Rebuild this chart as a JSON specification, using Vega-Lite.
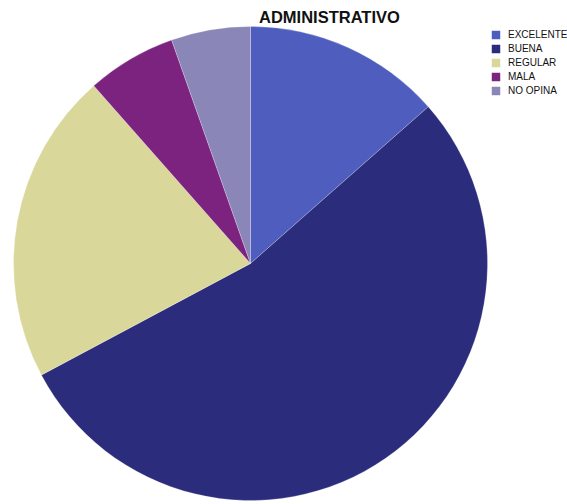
{
  "$schema": "https://vega.github.io/schema/vega-lite/v6.json",
  "width": 501,
  "height": 481,
  "autosize": {"type": "none"},
  "padding": {"left": 0, "top": 23, "right": 66, "bottom": 0},
  "background": "white",
  "title": {
    "text": "ADMINISTRATIVO",
    "anchor": "start",
    "frame": "group",
    "dx": 259,
    "offset": -3,
    "font": "Liberation Sans",
    "fontSize": 16.5,
    "fontWeight": "bold",
    "color": "#111111"
  },
  "data": {
    "values": [
      {"categoria": "EXCELENTE", "valor": 13.5, "orden": 1},
      {"categoria": "BUENA", "valor": 53.7, "orden": 2},
      {"categoria": "REGULAR", "valor": 21.3, "orden": 3},
      {"categoria": "MALA", "valor": 6.1, "orden": 4},
      {"categoria": "NO OPINA", "valor": 5.4, "orden": 5}
    ]
  },
  "mark": {"type": "arc", "radius": 237, "stroke": "#ffffff", "strokeWidth": 0.4, "strokeOpacity": 0.6},
  "encoding": {
    "theta": {"field": "valor", "type": "quantitative", "stack": true},
    "order": {"field": "orden", "type": "quantitative"},
    "color": {
      "field": "categoria",
      "type": "nominal",
      "sort": ["EXCELENTE", "BUENA", "REGULAR", "MALA", "NO OPINA"],
      "scale": {
        "domain": ["EXCELENTE", "BUENA", "REGULAR", "MALA", "NO OPINA"],
        "range": ["#4E5DBE", "#2B2D7C", "#D9D89A", "#7B237F", "#8A86B8"]
      },
      "legend": {
        "title": null,
        "orient": "none",
        "legendX": 491,
        "legendY": 7,
        "padding": 0,
        "symbolType": "square",
        "symbolSize": 72,
        "symbolStrokeWidth": 0,
        "labelFont": "Liberation Sans",
        "labelFontSize": 10,
        "labelColor": "#111111",
        "labelOffset": 7,
        "rowPadding": 4
      }
    }
  },
  "config": {"view": {"stroke": null}}
}
